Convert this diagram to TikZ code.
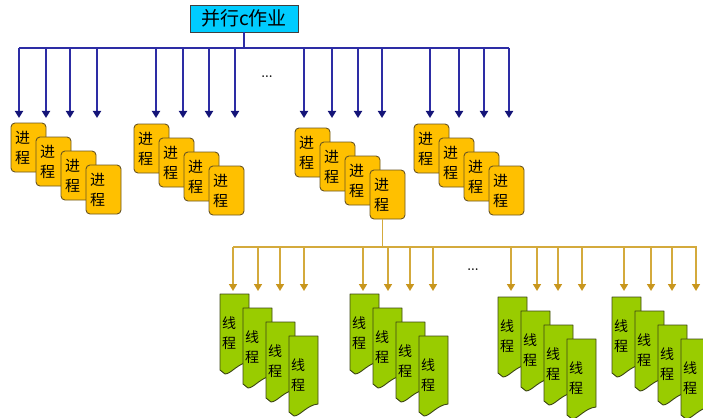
\documentclass[tikz,border=0pt]{standalone}
\usepackage{fontspec}
\newfontfamily\cjk{Noto Sans CJK SC}
\usetikzlibrary{arrows.meta,positioning}
\definecolor{jobcyan}{RGB}{0,204,255}
\definecolor{procorange}{RGB}{255,192,0}
\definecolor{procedge}{RGB}{105,85,35}
\definecolor{thgreen}{RGB}{153,204,0}
\definecolor{thedge}{RGB}{60,70,20}
\definecolor{lineblue}{RGB}{45,45,165}
\definecolor{tipblue}{RGB}{20,20,120}
\definecolor{linegold}{RGB}{212,170,60}
\definecolor{tipgold}{RGB}{200,150,30}
\begin{document}
\begin{tikzpicture}[x=1pt,y=-1pt]

\tikzstyle{job} = [rectangle, draw=black!75, fill=jobcyan, line width=0.9pt, minimum width=108pt, minimum height=27pt, inner sep=1pt, font=\cjk\fontsize{19}{21}\selectfont]
\tikzstyle{proc} = [rectangle, rounded corners=4pt, draw=procedge, fill=procorange, line width=0.9pt, minimum width=35pt, minimum height=49pt, text width=27pt, inner sep=0pt, align=left, font=\cjk\fontsize{15}{20}\selectfont]
\tikzstyle{thread} = [draw=thedge, fill=thgreen, line width=0.9pt, line join=round]
\tikzstyle{thlabel} = [inner sep=0pt, align=center, font=\cjk\fontsize{14}{20}\selectfont]
\tikzstyle{pline} = [lineblue, line width=1.8pt]
\tikzstyle{parrow} = [lineblue, line width=1.8pt, -{Triangle[width=8pt,length=7pt,color=tipblue]}]
\tikzstyle{gline} = [linegold, line width=1.6pt]
\tikzstyle{garrow} = [linegold, line width=1.6pt, -{Triangle[width=8pt,length=7pt,color=tipgold]}]

\useasboundingbox (0,0) rectangle (703,417);

% Job
\node (job) [job] at (244,18.5) {并行c作业};

% Processes
\foreach \g/\x/\y in {1/11/123, 2/134/124, 3/295/128, 4/414/124} {
  \node (p\g1) [proc] at (\x+17.5,\y+24.5) {进\\程};
  \node (p\g2) [proc, xshift=25pt, yshift=-14pt] at (p\g1) {进\\程};
  \node (p\g3) [proc, xshift=25pt, yshift=-14pt] at (p\g2) {进\\程};
  \node (p\g4) [proc, xshift=25pt, yshift=-14pt] at (p\g3) {进\\程};
}

% Paths from job to processes
\coordinate (pbl) at (19,48);
\coordinate (pbr) at (509,48);
\draw [pline] (job.south) -- (job.south |- pbl);
\draw [pline] (pbl) -- (pbr);
\foreach \ax [count=\i] in {19,46,70,97,156,183,209,235,304,332,358,382,430,459,484,509} {
  \coordinate (pa\i) at (\ax,48);
  \coordinate (pt\i) at (\ax,118);
  \draw [parrow] (pa\i) -- (pt\i);
}
\node (pdots) at (267,77) {\large\textbf{...}};

% Threads
\foreach \g/\x/\y in {1/220/294, 2/350/294, 3/498/297, 4/612/297} {
  \foreach \k in {0,...,3} {
    \pgfmathsetmacro\sx{\x+23*\k}
    \pgfmathsetmacro\sy{\y+14*\k}
    \filldraw [thread] (\sx,\sy) -- (\sx+29,\sy) -- (\sx+29,\sy+68)
      .. controls (\sx+18,\sy+69) and (\sx+11,\sy+80) .. (\sx+5,\sy+80)
      -- (\sx,\sy+76) -- cycle;
    \node (t\g\k) [thlabel] at (\sx+9,\sy+39) {线\\程};
  }
}

% Paths from process to threads
\coordinate (gbl) at (233,247);
\coordinate (gbr) at (697,247);
\draw [gline] ([xshift=-5pt]p34.south) -- ([xshift=-5pt]p34.south |- gbl);
\draw [gline] (gbl) -- (gbr);
\foreach \ax [count=\i] in {233,258,280,304,363,388,410,433,511,537,558,582,624,651,672,696} {
  \coordinate (ga\i) at (\ax,247);
  \coordinate (gt\i) at (\ax,291);
  \draw [garrow] (ga\i) -- (gt\i);
}
\node (tdots) at (473,270) {\large\textbf{...}};

\end{tikzpicture}
\end{document}
